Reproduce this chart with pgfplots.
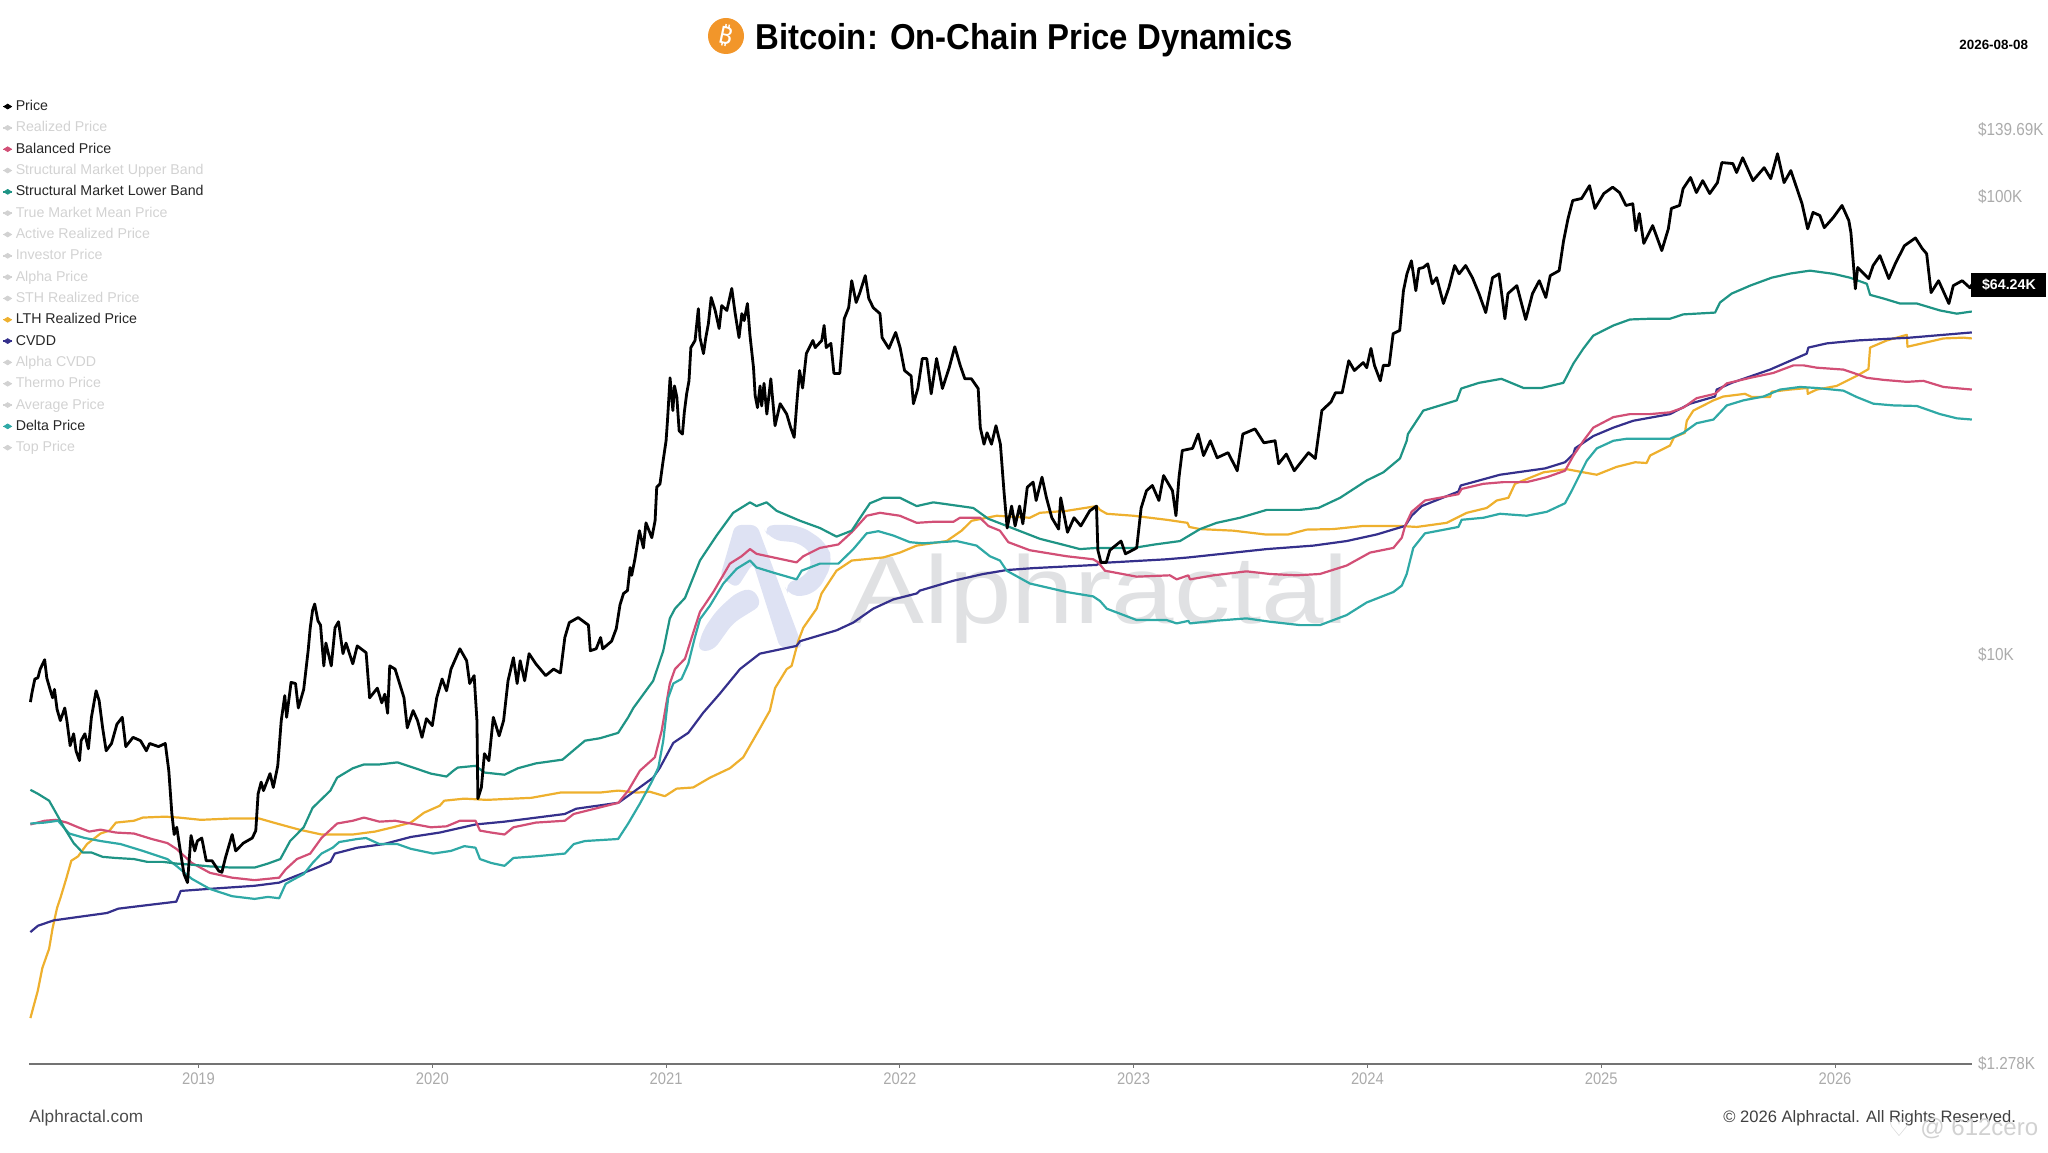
\documentclass[border=0pt]{standalone}
\usepackage{fontspec}
\usepackage{pgfplots}
\pgfplotsset{compat=1.18}
\setmainfont{Liberation Sans}
\newfontfamily\condfont[FakeStretch=0.88]{Liberation Sans}
\newfontfamily\titlefont[FakeStretch=0.915]{Liberation Sans}
\newfontfamily\symfont{DejaVu Sans}
\newfontfamily\btcfont{Noto Sans}
\definecolor{cprice}{HTML}{000000}
\definecolor{cbalanced}{HTML}{D24F76}
\definecolor{clower}{HTML}{1F9485}
\definecolor{cdelta}{HTML}{2FA9A6}
\definecolor{clth}{HTML}{EEB02E}
\definecolor{ccvdd}{HTML}{35308C}
\definecolor{cmuted}{HTML}{D2D2D2}
\definecolor{ctick}{HTML}{ABABAB}
\definecolor{cmark}{HTML}{E0E1E3}
\definecolor{clogo}{HTML}{DEE2F3}
\definecolor{cbtc}{HTML}{F2962A}
% reference pixels to picture coordinates (1 px = 0.5pt, y from the top)
\def\px(#1,#2){({(#1)*0.5pt},{(1152-(#2))*0.5pt})}
\begin{document}
\begin{tikzpicture}
\path[use as bounding box] (0,0) rectangle (1024pt,576pt);
%% watermark behind the lines
\fill[clogo,rounded corners=3pt] \px(735,525) -- \px(757,525) -- \px(803,648) -- \px(780,648) -- \px(753,563) -- \px(737,588) -- \px(720,577) -- cycle;
\fill[clogo,rounded corners=4pt] \px(697,651) -- \px(713,651) -- \px(733,623) -- \px(762,605) -- \px(753,588) -- \px(737,592) -- \px(717,610) -- \px(703,630) -- cycle;
\fill[clogo,rounded corners=6pt] \px(762,525) -- \px(800,525) -- \px(827,543) -- \px(833,563) -- \px(817,593) -- \px(790,598) -- \px(783,583) -- \px(807,577) -- \px(813,558) -- \px(803,543) -- \px(770,540) -- cycle;
\node[anchor=base west,inner sep=0pt,text=cmark,xscale=1.17] at \px(849,623) {\fontsize{48}{48}\selectfont Alphractal};
\begin{axis}[
  at={(14.5pt,44pt)}, anchor=south west,
  scale only axis, width=971.5pt, height=467pt,
  clip=false,
  ymode=log,
  xmin=2018.275, xmax=2026.586,
  ymin=1.278, ymax=139.69,
  axis x line=bottom,
  axis y line*=right,
  x axis line style={-,draw=black!55,line width=0.6pt},
  y axis line style={draw=none},
  xtick={2019,2020,2021,2022,2023,2024,2025,2026},
  xticklabels={2019,2020,2021,2022,2023,2024,2025,2026},
  ytick={1.278,10,100,139.69},
  yticklabels={\$1.278K,\$10K,\$100K,\$139.69K},
  yminorticks=false, xminorticks=false,
  tick align=outside,
  xtick style={draw=black!55,line width=0.4pt},
  major tick length=2pt,
  ytick style={draw=none},
  xticklabel style={font=\condfont\fontsize{8.4}{9}\selectfont,text=ctick,yshift=1.2pt},
  yticklabel style={font=\condfont\fontsize{8.7}{9}\selectfont,text=ctick,anchor=west,xshift=-2.5pt},
  legend cell align=left,
  legend style={at={(-0.0137,1.0375)},anchor=north west,draw=none,fill=none,
    font=\fontsize{7.1}{8}\selectfont,row sep=-0.54pt,
    inner xsep=0pt,inner ysep=0pt,
    nodes={inner xsep=1.6pt,inner ysep=1.5pt,minimum height=11.2pt,text height=5.4pt,text depth=1.4pt}},
  legend image code/.code={
    \draw[#1,line width=0.7pt] (0pt,0pt) -- (4.2pt,0pt);
    \fill[#1] (0.2pt,0pt) -- (2.1pt,1.2pt) -- (4pt,0pt) -- (2.1pt,-1.2pt) -- cycle;
  },
]
%% legend, in the order of the reference; hidden series are greyed out
\addlegendimage{color=cprice}\addlegendentry{\textcolor{black!85}{Price}}
\addlegendimage{color=cmuted}\addlegendentry{\textcolor{cmuted}{Realized Price}}
\addlegendimage{color=cbalanced}\addlegendentry{\textcolor{black!85}{Balanced Price}}
\addlegendimage{color=cmuted}\addlegendentry{\textcolor{cmuted}{Structural Market Upper Band}}
\addlegendimage{color=clower}\addlegendentry{\textcolor{black!85}{Structural Market Lower Band}}
\addlegendimage{color=cmuted}\addlegendentry{\textcolor{cmuted}{True Market Mean Price}}
\addlegendimage{color=cmuted}\addlegendentry{\textcolor{cmuted}{Active Realized Price}}
\addlegendimage{color=cmuted}\addlegendentry{\textcolor{cmuted}{Investor Price}}
\addlegendimage{color=cmuted}\addlegendentry{\textcolor{cmuted}{Alpha Price}}
\addlegendimage{color=cmuted}\addlegendentry{\textcolor{cmuted}{STH Realized Price}}
\addlegendimage{color=clth}\addlegendentry{\textcolor{black!85}{LTH Realized Price}}
\addlegendimage{color=ccvdd}\addlegendentry{\textcolor{black!85}{CVDD}}
\addlegendimage{color=cmuted}\addlegendentry{\textcolor{cmuted}{Alpha CVDD}}
\addlegendimage{color=cmuted}\addlegendentry{\textcolor{cmuted}{Thermo Price}}
\addlegendimage{color=cmuted}\addlegendentry{\textcolor{cmuted}{Average Price}}
\addlegendimage{color=cdelta}\addlegendentry{\textcolor{black!85}{Delta Price}}
\addlegendimage{color=cmuted}\addlegendentry{\textcolor{cmuted}{Top Price}}

%% all prices in thousands of USD, x in decimal years
%% LTH Realized Price
\addplot[forget plot,color=clth,line width=1.1pt,line join=round] coordinates {
(2018.281,1.61)(2018.313,1.85)(2018.332,2.07)(2018.361,2.28)(2018.376,2.53)(2018.395,2.8)(2018.409,2.94)(2018.434,3.24)
(2018.456,3.55)(2018.485,3.63)(2018.523,3.86)(2018.581,4.07)(2018.619,4.13)(2018.647,4.3)(2018.724,4.34)(2018.762,4.41)
(2018.858,4.43)(2018.915,4.41)(2019.010,4.36)(2019.144,4.39)(2019.259,4.39)(2019.335,4.28)(2019.431,4.15)(2019.526,4.05)
(2019.660,4.05)(2019.755,4.11)(2019.832,4.2)(2019.908,4.3)(2019.965,4.52)(2020.032,4.68)(2020.051,4.8)(2020.137,4.85)
(2020.233,4.82)(2020.424,4.87)(2020.548,5)(2020.717,5.0)(2020.795,5.05)(2020.874,5)(2020.931,5.02)(2020.995,4.91)
(2021.045,5.1)(2021.116,5.13)(2021.188,5.39)(2021.273,5.65)(2021.330,5.97)(2021.401,6.9)(2021.444,7.55)(2021.466,8.45)
(2021.516,9.3)(2021.537,9.45)(2021.565,10.7)(2021.587,11.45)(2021.644,12.6)(2021.665,13.6)(2021.729,15.25)(2021.794,16.05)
(2021.929,16.3)(2022.000,16.7)(2022.072,17.3)(2022.200,17.7)(2022.264,18.65)(2022.307,19.6)(2022.414,20.1)(2022.556,19.9)
(2022.599,20.4)(2022.713,20.6)(2022.842,21.1)(2022.856,20.7)(2022.885,20.3)(2022.999,20.1)(2023.141,19.7)(2023.230,19.4)
(2023.238,19)(2023.284,18.8)(2023.426,18.65)(2023.562,18.3)(2023.662,18.3)(2023.740,18.75)(2023.854,18.8)(2023.983,19.1)
(2024.139,19.1)(2024.211,19)(2024.339,19.4)(2024.425,20.4)(2024.510,20.9)(2024.553,21.7)(2024.603,22)(2024.631,23.6)
(2024.753,25)(2024.852,25.4)(2024.924,25)(2024.981,24.7)(2025.066,25.7)(2025.145,26.3)(2025.194,26.2)(2025.209,27.2)
(2025.294,28.6)(2025.311,29.8)(2025.358,30.5)(2025.366,32.4)(2025.394,34.1)(2025.480,35.9)(2025.522,36.6)(2025.615,37.1)
(2025.644,36.5)(2025.722,36.5)(2025.729,37.5)(2025.808,37.9)(2025.882,38.2)(2025.883,37.1)(2025.922,37.9)(2026.007,38.6)
(2026.093,40.6)(2026.143,42)(2026.150,46.8)(2026.221,48.5)(2026.307,49.9)(2026.310,47)(2026.464,49)(2026.549,49.2)(2026.585,49)
};
%% CVDD
\addplot[forget plot,color=ccvdd,line width=1.1pt,line join=round] coordinates {
(2018.281,2.48)(2018.313,2.56)(2018.380,2.63)(2018.495,2.68)(2018.609,2.73)(2018.657,2.79)(2018.781,2.84)(2018.905,2.89)
(2018.924,3.05)(2019.039,3.08)(2019.240,3.13)(2019.345,3.18)(2019.488,3.4)(2019.564,3.53)(2019.583,3.68)(2019.679,3.79)
(2019.793,3.86)(2019.908,4)(2020.032,4.09)(2020.185,4.26)(2020.309,4.32)(2020.567,4.49)(2020.615,4.61)(2020.796,4.75)
(2020.838,4.92)(2020.945,5.39)(2020.974,5.67)(2021.031,6.42)(2021.095,6.75)(2021.159,7.47)(2021.230,8.22)(2021.316,9.3)
(2021.401,10.05)(2021.558,10.45)(2021.573,10.7)(2021.729,11.3)(2021.801,11.75)(2021.886,12.6)(2021.972,13.2)(2022.072,13.6)
(2022.086,13.8)(2022.229,14.5)(2022.357,15)(2022.457,15.3)(2022.571,15.45)(2022.842,15.7)(2022.856,15.85)(2022.999,16)
(2023.141,16.15)(2023.234,16.3)(2023.569,17)(2023.769,17.3)(2023.911,17.7)(2024.040,18.3)(2024.161,19.1)(2024.189,20.1)
(2024.232,21.1)(2024.389,22.7)(2024.399,23.4)(2024.567,24.7)(2024.760,25.5)(2024.845,26.3)(2024.881,27.4)(2024.888,28.2)
(2024.966,30)(2025.052,31.3)(2025.137,32.4)(2025.294,33.5)(2025.380,35.3)(2025.487,36.6)(2025.494,37.9)(2025.558,39.2)
(2025.722,41.9)(2025.879,45.4)(2025.886,46.8)(2025.965,47.8)(2026.093,48.5)(2026.321,49.2)(2026.585,50.5)
};
%% Balanced Price
\addplot[forget plot,color=cbalanced,line width=1.1pt,line join=round] coordinates {
(2018.281,4.26)(2018.342,4.34)(2018.390,4.36)(2018.437,4.3)(2018.485,4.2)(2018.533,4.11)(2018.581,4.15)(2018.647,4.09)
(2018.724,4.07)(2018.800,3.96)(2018.867,3.88)(2018.905,3.77)(2018.972,3.51)(2019.049,3.34)(2019.144,3.26)(2019.240,3.22)
(2019.345,3.26)(2019.373,3.4)(2019.421,3.58)(2019.478,3.68)(2019.526,3.98)(2019.593,4.28)(2019.660,4.34)(2019.708,4.41)
(2019.774,4.32)(2019.841,4.34)(2019.908,4.28)(2019.994,4.2)(2020.061,4.22)(2020.118,4.34)(2020.185,4.34)(2020.204,4.13)
(2020.252,4.09)(2020.309,4.05)(2020.347,4.2)(2020.443,4.3)(2020.567,4.34)(2020.605,4.49)(2020.796,4.75)(2020.838,5.05)
(2020.888,5.58)(2020.952,5.97)(2020.981,6.82)(2021.016,8.65)(2021.038,9.3)(2021.081,9.8)(2021.123,11.45)(2021.145,12.4)
(2021.202,13.7)(2021.273,15.8)(2021.323,16.4)(2021.359,17)(2021.387,16.6)(2021.459,16.3)(2021.558,15.9)(2021.587,16.4)
(2021.658,17.1)(2021.737,17.4)(2021.794,18.5)(2021.858,20.1)(2021.915,20.4)(2022.000,20.1)(2022.072,19.4)(2022.143,19.5)
(2022.229,19.5)(2022.257,19.9)(2022.343,19.9)(2022.378,19.1)(2022.428,18.65)(2022.464,17.6)(2022.556,16.9)(2022.713,16.4)
(2022.827,16.15)(2022.849,15.9)(2022.877,15.25)(2023.013,14.8)(2023.155,14.9)(2023.184,14.6)(2023.234,14.9)(2023.241,14.6)
(2023.341,14.9)(2023.483,15.2)(2023.583,15)(2023.697,14.9)(2023.797,15)(2023.911,15.65)(2024.011,16.7)(2024.111,17.1)
(2024.147,18)(2024.161,19.1)(2024.189,20.5)(2024.246,21.7)(2024.389,22.4)(2024.403,23)(2024.496,23.6)(2024.581,23.8)
(2024.681,23.8)(2024.767,24.4)(2024.845,25.2)(2024.881,27.2)(2024.924,29.3)(2024.966,31.3)(2025.052,33)(2025.123,33.5)
(2025.209,33.5)(2025.294,33.8)(2025.351,34.6)(2025.408,36.3)(2025.487,37.1)(2025.537,39.1)(2025.637,40.2)(2025.736,41.2)
(2025.822,42.8)(2025.865,42.8)(2025.922,42.3)(2026.036,41.9)(2026.079,41.2)(2026.136,40.2)(2026.207,39.8)(2026.307,39.4)
(2026.378,39.6)(2026.464,38.4)(2026.535,38.1)(2026.585,37.9)
};
%% Delta Price
\addplot[forget plot,color=cdelta,line width=1.1pt,line join=round] coordinates {
(2018.281,4.28)(2018.342,4.3)(2018.399,4.34)(2018.447,4.07)(2018.514,3.98)(2018.581,3.92)(2018.667,3.86)(2018.762,3.73)
(2018.867,3.58)(2018.905,3.46)(2018.972,3.24)(2019.049,3.08)(2019.144,2.97)(2019.240,2.93)(2019.297,2.96)(2019.345,2.94)
(2019.373,3.16)(2019.411,3.24)(2019.450,3.32)(2019.488,3.51)(2019.526,3.68)(2019.574,3.79)(2019.602,3.9)(2019.679,3.96)
(2019.717,3.98)(2019.774,3.86)(2019.851,3.86)(2019.908,3.77)(2020.004,3.68)(2020.080,3.73)(2020.137,3.82)(2020.185,3.79)
(2020.204,3.58)(2020.252,3.51)(2020.309,3.46)(2020.347,3.6)(2020.443,3.63)(2020.567,3.68)(2020.605,3.86)(2020.653,3.92)
(2020.795,3.96)(2020.838,4.28)(2020.888,4.73)(2020.938,5.27)(2020.967,5.67)(2020.988,6.49)(2021.009,8.05)(2021.031,8.65)
(2021.066,8.85)(2021.095,9.55)(2021.123,10.9)(2021.145,11.95)(2021.188,12.8)(2021.245,14.3)(2021.302,15.4)(2021.359,16.05)
(2021.387,15.5)(2021.459,15.1)(2021.558,14.6)(2021.580,15.25)(2021.658,15.8)(2021.737,15.8)(2021.801,17.0)(2021.858,18.4)
(2021.908,18.6)(2021.972,18.2)(2022.043,17.6)(2022.100,17.5)(2022.243,17.7)(2022.328,17.3)(2022.385,16.4)(2022.428,16.05)
(2022.457,15.25)(2022.556,14.3)(2022.713,13.7)(2022.827,13.4)(2022.856,13.1)(2022.885,12.6)(2023.013,11.9)(2023.141,11.9)
(2023.184,11.7)(2023.234,11.85)(2023.241,11.7)(2023.341,11.85)(2023.483,12)(2023.583,11.8)(2023.712,11.6)(2023.797,11.6)
(2023.911,12.2)(2023.997,13)(2024.111,13.7)(2024.147,14.15)(2024.168,15)(2024.196,17.1)(2024.246,18.4)(2024.389,19)
(2024.403,19.7)(2024.496,19.9)(2024.567,20.3)(2024.681,20.1)(2024.767,20.5)(2024.845,21.4)(2024.874,22.8)(2024.938,26.5)
(2024.981,28.2)(2025.052,29.3)(2025.109,29.6)(2025.209,29.6)(2025.294,29.6)(2025.351,30.5)(2025.408,32)(2025.480,32.6)
(2025.537,35)(2025.608,35.9)(2025.694,36.6)(2025.765,37.9)(2025.851,38.4)(2025.922,38.2)(2026.036,37.7)(2026.093,36.5)
(2026.164,35.3)(2026.250,35)(2026.350,34.9)(2026.449,33.5)(2026.521,32.8)(2026.585,32.6)
};
%% Structural Market Lower Band
\addplot[forget plot,color=clower,line width=1.1pt,line join=round] coordinates {
(2018.281,5.07)(2018.313,4.97)(2018.361,4.8)(2018.390,4.52)(2018.428,4.17)(2018.466,3.88)(2018.504,3.7)(2018.542,3.7)
(2018.590,3.62)(2018.644,3.6)(2018.724,3.58)(2018.781,3.53)(2018.848,3.53)(2018.905,3.5)(2018.972,3.48)(2019.049,3.45)
(2019.144,3.43)(2019.240,3.43)(2019.297,3.5)(2019.350,3.58)(2019.392,3.92)(2019.450,4.2)(2019.488,4.63)(2019.564,5.05)
(2019.593,5.39)(2019.660,5.65)(2019.708,5.76)(2019.774,5.76)(2019.851,5.82)(2019.918,5.67)(2019.994,5.5)(2020.061,5.42)
(2020.090,5.58)(2020.109,5.67)(2020.185,5.72)(2020.223,5.53)(2020.309,5.47)(2020.366,5.65)(2020.443,5.79)(2020.557,5.9)
(2020.653,6.49)(2020.717,6.57)(2020.795,6.75)(2020.838,7.3)(2020.860,7.65)(2020.945,8.77)(2020.988,10.2)(2021.016,12.0)
(2021.038,12.6)(2021.081,13.3)(2021.145,16.05)(2021.216,18.2)(2021.287,20.4)(2021.359,21.5)(2021.387,21.1)(2021.430,21.5)
(2021.473,20.6)(2021.573,19.6)(2021.658,18.9)(2021.729,18.1)(2021.794,18.65)(2021.836,20.1)(2021.872,21.4)(2021.929,22)
(2022.000,22)(2022.072,21.1)(2022.143,21.5)(2022.257,21.1)(2022.314,20.9)(2022.378,19.8)(2022.457,19.1)(2022.599,17.9)
(2022.713,17.3)(2022.770,17.0)(2022.842,17.1)(2022.999,17.1)(2023.091,17.4)(2023.198,17.7)(2023.284,18.8)(2023.355,19.4)
(2023.455,19.9)(2023.569,20.7)(2023.712,20.7)(2023.790,20.9)(2023.883,22)(2023.997,24)(2024.068,25)(2024.139,26.8)
(2024.168,29.3)(2024.173,30.3)(2024.239,34.1)(2024.382,35.9)(2024.401,38.1)(2024.477,39.2)(2024.573,40)(2024.668,38.2)
(2024.744,38.2)(2024.838,39.2)(2024.881,43.2)(2024.924,46.6)(2024.966,49.7)(2025.052,52.3)(2025.123,53.9)(2025.209,54.1)
(2025.294,54.1)(2025.351,55.3)(2025.487,55.8)(2025.508,58.7)(2025.558,61.4)(2025.637,63.9)(2025.729,66.5)(2025.808,67.9)
(2025.893,68.9)(2025.993,67.8)(2026.064,66.5)(2026.136,64.5)(2026.150,61)(2026.207,59.9)(2026.278,58.4)(2026.350,58.4)
(2026.449,56.4)(2026.521,55.5)(2026.585,56.1)
};
%% Price
\addplot[forget plot,color=cprice,line width=1.4pt,line join=round] coordinates {
(2018.281,7.88)(2018.288,8.27)(2018.300,8.85)(2018.313,8.9)(2018.323,9.3)(2018.342,9.75)(2018.351,8.9)(2018.365,8.4)
(2018.376,8.05)(2018.384,8.4)(2018.395,7.6)(2018.409,7.18)(2018.428,7.65)(2018.437,7.18)(2018.451,6.33)(2018.466,6.72)
(2018.476,6.17)(2018.491,5.87)(2018.498,6.49)(2018.514,6.72)(2018.529,6.23)(2018.542,7.3)(2018.562,8.34)(2018.575,7.94)
(2018.590,6.92)(2018.605,6.17)(2018.628,6.4)(2018.651,7.05)(2018.674,7.3)(2018.689,6.3)(2018.720,6.6)(2018.752,6.49)
(2018.777,6.17)(2018.791,6.4)(2018.829,6.3)(2018.858,6.4)(2018.873,5.58)(2018.886,4.5)(2018.896,4.05)(2018.907,4.2)
(2018.924,3.68)(2018.938,3.32)(2018.953,3.18)(2018.968,4.03)(2018.984,3.73)(2018.995,3.92)(2019.014,3.98)(2019.033,3.55)
(2019.058,3.55)(2019.087,3.37)(2019.100,3.35)(2019.115,3.6)(2019.144,4.05)(2019.159,3.73)(2019.192,3.88)(2019.230,3.98)
(2019.245,4.13)(2019.255,4.97)(2019.268,5.27)(2019.278,5.05)(2019.306,5.5)(2019.320,5.13)(2019.339,5.72)(2019.354,7.18)
(2019.369,8.14)(2019.377,7.3)(2019.396,8.7)(2019.415,8.65)(2019.427,7.65)(2019.450,8.4)(2019.469,10.2)(2019.478,11.45)
(2019.488,12.5)(2019.497,12.9)(2019.511,11.85)(2019.522,11.6)(2019.536,9.45)(2019.545,10.6)(2019.568,9.45)(2019.584,11.45)
(2019.599,11.8)(2019.618,10.05)(2019.631,10.6)(2019.660,9.55)(2019.679,10.45)(2019.717,10.1)(2019.732,8.05)(2019.765,8.45)
(2019.784,7.85)(2019.797,8.2)(2019.809,7.45)(2019.818,9.45)(2019.841,9.3)(2019.879,8.05)(2019.893,6.92)(2019.918,7.55)
(2019.937,7.18)(2019.956,6.6)(2019.975,7.25)(2020.000,7.0)(2020.019,8.05)(2020.042,8.85)(2020.061,8.34)(2020.080,9.3)
(2020.118,10.3)(2020.147,9.7)(2020.160,8.65)(2020.179,9.0)(2020.191,7.18)(2020.195,4.85)(2020.210,5.13)(2020.223,6.08)
(2020.242,5.87)(2020.261,7.3)(2020.286,6.65)(2020.305,7.18)(2020.324,8.77)(2020.347,9.85)(2020.363,8.65)(2020.376,9.7)
(2020.395,8.77)(2020.414,10.05)(2020.443,9.55)(2020.485,9.0)(2020.519,9.3)(2020.548,9.12)(2020.567,10.9)(2020.586,11.75)
(2020.624,12.05)(2020.668,11.6)(2020.676,10.2)(2020.701,10.3)(2020.720,10.9)(2020.729,10.3)(2020.767,10.7)(2020.787,11.4)
(2020.803,12.85)(2020.818,13.6)(2020.835,13.8)(2020.846,15.5)(2020.853,14.9)(2020.867,16.2)(2020.886,18.65)(2020.903,17.1)
(2020.914,19.4)(2020.939,18.0)(2020.953,19.6)(2020.960,23.2)(2020.974,23.6)(2020.986,26.2)(2021.000,29.3)(2021.006,32.4)
(2021.017,40.2)(2021.029,34.1)(2021.036,38.6)(2021.046,36.5)(2021.056,30.8)(2021.070,30.3)(2021.078,33.8)(2021.088,37.1)
(2021.098,39.6)(2021.106,46.8)(2021.124,48.5)(2021.138,56.9)(2021.145,49.2)(2021.160,45.4)(2021.170,49.2)(2021.181,52.8)
(2021.193,60.2)(2021.210,56.4)(2021.227,51.5)(2021.238,57.8)(2021.260,56.4)(2021.281,63.0)(2021.295,55.8)(2021.312,49.2)
(2021.324,55.5)(2021.334,53.6)(2021.348,58.4)(2021.359,49.7)(2021.374,42.3)(2021.381,36.8)(2021.391,34.6)(2021.402,38.6)
(2021.409,34.9)(2021.419,39.1)(2021.431,33.5)(2021.448,40.0)(2021.466,31.6)(2021.488,35.3)(2021.516,33.5)(2021.533,31.3)
(2021.548,29.8)(2021.559,35.3)(2021.571,41.7)(2021.584,38.2)(2021.600,45.4)(2021.628,48.5)(2021.638,46.8)(2021.666,48.5)
(2021.676,52.3)(2021.685,46.8)(2021.705,47.8)(2021.718,41.1)(2021.743,41.1)(2021.762,54.1)(2021.781,57.2)(2021.794,65.5)
(2021.813,58.7)(2021.829,61.7)(2021.852,67.2)(2021.867,59.9)(2021.886,57.2)(2021.915,55.5)(2021.924,49.2)(2021.953,46.6)
(2021.982,50.5)(2022.001,46.8)(2022.020,41.7)(2022.048,40.6)(2022.058,35.3)(2022.077,38.1)(2022.096,44.3)(2022.115,44.3)
(2022.134,37.1)(2022.157,44.3)(2022.182,38.1)(2022.211,42.3)(2022.235,47.0)(2022.258,42.8)(2022.278,40.0)(2022.306,40.0)
(2022.335,38.1)(2022.344,31.3)(2022.360,28.8)(2022.373,30.5)(2022.392,28.8)(2022.411,31.6)(2022.430,28.8)(2022.446,22.5)
(2022.459,18.9)(2022.478,21.1)(2022.493,19.1)(2022.512,21.1)(2022.526,19.3)(2022.545,23.2)(2022.570,23.8)(2022.583,21.7)
(2022.608,24.4)(2022.627,22.0)(2022.650,19.9)(2022.679,18.8)(2022.688,22.0)(2022.717,18.5)(2022.745,19.9)(2022.774,19.1)
(2022.812,20.6)(2022.841,21.1)(2022.847,16.9)(2022.860,15.9)(2022.883,15.9)(2022.898,16.9)(2022.946,17.7)(2022.965,16.6)
(2023.013,17.1)(2023.032,20.9)(2023.055,22.8)(2023.080,23.4)(2023.108,21.7)(2023.128,24.6)(2023.166,22.8)(2023.181,20.1)
(2023.194,24.4)(2023.208,27.9)(2023.252,28.2)(2023.276,30.3)(2023.299,27.2)(2023.328,29.3)(2023.357,26.9)(2023.404,27.6)
(2023.443,25.2)(2023.467,30.3)(2023.519,31.1)(2023.557,29.0)(2023.605,29.3)(2023.620,26.1)(2023.653,27.4)(2023.687,25.2)
(2023.748,27.6)(2023.777,26.8)(2023.805,34.1)(2023.844,35.6)(2023.863,37.3)(2023.892,37.3)(2023.920,43.8)(2023.944,41.7)
(2023.982,43.4)(2023.997,42.3)(2024.015,46.6)(2024.030,42.8)(2024.055,39.6)(2024.068,42.8)(2024.093,42.8)(2024.110,50.2)
(2024.138,51.0)(2024.154,62.3)(2024.169,67.8)(2024.188,72.4)(2024.207,62.3)(2024.220,69.6)(2024.239,70.0)(2024.258,71.3)
(2024.277,64.5)(2024.296,66.5)(2024.325,58.4)(2024.348,63.2)(2024.373,70.7)(2024.392,67.8)(2024.420,70.7)(2024.449,66.5)
(2024.477,61.4)(2024.506,55.8)(2024.535,66.5)(2024.563,67.8)(2024.588,54.1)(2024.601,61.4)(2024.639,63.9)(2024.677,53.9)
(2024.706,61.4)(2024.735,65.5)(2024.763,60.2)(2024.782,67.2)(2024.820,68.9)(2024.839,80.1)(2024.858,89.5)(2024.878,98.0)
(2024.916,99.0)(2024.950,105.6)(2024.973,94.2)(2025.011,101.5)(2025.049,104.8)(2025.078,102)(2025.106,95.6)(2025.135,96.4)
(2025.148,84.2)(2025.163,91.8)(2025.182,79)(2025.220,86.4)(2025.259,76.2)(2025.287,85)(2025.300,94.2)(2025.335,95.6)
(2025.350,104)(2025.382,110)(2025.407,102)(2025.434,108.3)(2025.464,101.5)(2025.497,107.2)(2025.516,118.6)(2025.563,118)
(2025.579,112.8)(2025.605,121.5)(2025.649,108.3)(2025.697,115.6)(2025.725,109.4)(2025.754,124)(2025.782,107.2)(2025.811,113.9)
(2025.840,103)(2025.859,96.4)(2025.883,85)(2025.906,92.3)(2025.935,90.9)(2025.954,85.5)(2025.992,89.9)(2026.030,95.6)
(2026.059,88.6)(2026.068,83.4)(2026.087,62.9)(2026.097,70)(2026.144,66.2)(2026.163,70.7)(2026.192,74.3)(2026.230,66.2)
(2026.259,71.6)(2026.297,78.1)(2026.344,81.2)(2026.373,77)(2026.392,75)(2026.411,61.7)(2026.443,65.5)(2026.487,58.4)
(2026.506,63.9)(2026.544,65.5)(2026.577,63.2)(2026.586,64.24)
};
%% current price tag
\node[anchor=west,fill=black,text=white,inner sep=0pt,minimum width=37.5pt,minimum height=12pt,xshift=-0.5pt,
  font=\bfseries\fontsize{7.1}{8}\selectfont] at (axis cs:2026.586,64.24) {\$64.24K};
\end{axis}
%% title, date and footer
\fill[cbtc] \px(726,36) circle (9pt);
\node[text=white,rotate=-12,inner sep=0pt] at \px(726,36) {\btcfont\bfseries\fontsize{12}{12}\selectfont ₿};
\node[anchor=west,inner sep=0pt] at \px(755,40.5) {\titlefont\bfseries\fontsize{18}{18}\selectfont Bitcoin: On-Chain Price Dynamics};
\node[anchor=west,inner sep=0pt] at \px(1959,45.3) {\bfseries\fontsize{6.7}{8}\selectfont 2026-08-08};
\node[anchor=west,inner sep=0pt,text=black!70] at \px(29,1118.5) {\fontsize{8.6}{10}\selectfont Alphractal.com};
\node[anchor=west,inner sep=0pt,text=black!75] at \px(1723,1118.5) {\fontsize{8.28}{10}\selectfont © 2026 Alphractal. All Rights Reserved.};
\node[anchor=west,inner sep=0pt,text=black!18] at \px(1888,1128) {\symfont\fontsize{12}{12}\selectfont ♡};
\node[anchor=west,inner sep=0pt,text=black!18] at \px(1920,1128) {\fontsize{12}{12}\selectfont @ 612cero};
\end{tikzpicture}
\end{document}
